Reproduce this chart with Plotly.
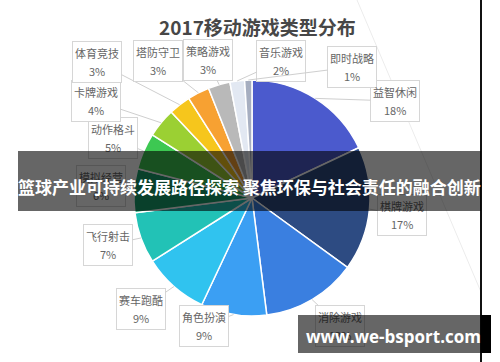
import math
import plotly.graph_objects as go

# ---------------- data ----------------
categories = ["益智休闲", "棋牌游戏", "消除游戏", "角色扮演", "赛车跑酷", "飞行射击", "模拟经营",
              "动作格斗", "卡牌游戏", "体育竞技", "塔防守卫", "策略游戏", "音乐游戏", "即时战略"]
shares = [18, 17, 13, 9, 9, 7, 6, 5, 4, 3, 3, 3, 2, 1]
title_text = "2017移动游戏类型分布"
banner_text = "篮球产业可持续发展路径探索 聚焦环保与社会责任的融合创新"
watermark_text = "www.we-bsport.com"

# ---------------- style / layout ----------------
W, H = 500, 362
colors = ["#4b5acd", "#2d4b82", "#3a7fe0", "#3b9ff3", "#30c3ef", "#22c2b6", "#18a06c",
          "#3dc852", "#9bd033", "#f6c61c", "#f7a132", "#b9b9b9", "#e2e8f2", "#a6aec0"]
# label box centres in pixels (x, y)
label_pos = [(395, 101), (402, 215), (340, 326), (204, 326), (141, 309), (108, 245), (101, 186),
             (113, 138), (96, 101), (97, 62), (158, 61), (208, 60), (281, 61), (352, 67)]
CX, CY, R = 252, 198, 118
FONT = "Noto Sans CJK SC"

fig = go.Figure()
fig.add_trace(go.Pie(
    labels=categories, values=shares, sort=False, direction="clockwise", rotation=0,
    marker=dict(colors=colors, line=dict(color="white", width=1.5)),
    textinfo="none", hoverinfo="skip", showlegend=False,
    domain=dict(x=[(CX - R) / W, (CX + R) / W], y=[(H - CY - R) / H, (H - CY + R) / H]),
))

def px(x):
    return x / W

def py(y):
    return 1 - y / H

C = dict(xref="paper", yref="paper", xanchor="center", yanchor="middle")

ann = []
ann.append(dict(x=px(257), y=py(26), text="<b>" + title_text + "</b>", showarrow=False,
                font=dict(family=FONT, size=19, color="#474747"), **C))

total = sum(shares)
cum = 0
tips = []
for v in shares:
    mid = (cum + v / 2) / total * 2 * math.pi
    tips.append((CX + R * math.sin(mid), CY - R * math.cos(mid)))
    cum += v

for (name, v, (bx, by), (tx, ty)) in zip(categories, shares, label_pos, tips):
    ann.append(dict(x=px(tx), y=py(ty), text=" ",
                    showarrow=True, ax=bx - tx, ay=by - ty, arrowhead=0, arrowwidth=1,
                    arrowcolor="#cfcfcf", standoff=0, startstandoff=0,
                    width=48, height=40, bordercolor="#d6d6d6", borderwidth=1,
                    borderpad=0, bgcolor="white", font=dict(size=1), **C))
for (name, v, (bx, by)) in zip(categories, shares, label_pos):
    ann.append(dict(x=px(bx), y=py(by - 9), text=name,
                    showarrow=False, font=dict(family=FONT, size=11, color="#666666"), **C))
    ann.append(dict(x=px(bx), y=py(by + 9), text=f"{v}%",
                    showarrow=False, font=dict(family=FONT, size=11, color="#666666"), **C))

# banner
ann.append(dict(x=px((18 + 481) / 2), y=py(181), text=" ",
                showarrow=False, width=463, height=60, bgcolor="rgba(0,0,0,0.6)",
                borderpad=0, borderwidth=0, font=dict(size=1), **C))
ann.append(dict(x=px(249.5), y=py(186),
                text="<b>" + banner_text + "</b>", showarrow=False,
                font=dict(family=FONT, size=17, color="white"), **C))
# watermark
ann.append(dict(x=px((298 + 481) / 2), y=py(334), text=" ",
                showarrow=False, width=183, height=38, bgcolor="rgba(0,0,0,0.6)",
                borderpad=0, borderwidth=0, font=dict(size=1), **C))
ann.append(dict(x=px(486), y=py(334), text=" ",
                showarrow=False, width=10, height=38, bgcolor="black",
                borderpad=0, borderwidth=0, font=dict(size=1), **C))
ann.append(dict(x=px(393), y=py(336),
                text="<b>" + watermark_text + "</b>", showarrow=False,
                font=dict(family="Open Sans", size=17, color="white"), **C))

shapes = [
    dict(type="line", xref="paper", yref="paper", x0=px(357), y0=py(0), x1=px(481), y1=py(292),
         line=dict(color="#ececec", width=1), layer="below"),
    dict(type="line", xref="paper", yref="paper", x0=px(481), y0=0, x1=px(481), y1=1,
         line=dict(color="#111111", width=2)),
]

fig.update_layout(
    width=W, height=H, margin=dict(l=0, r=0, t=0, b=0),
    paper_bgcolor="white", plot_bgcolor="white",
    annotations=ann, shapes=shapes,
)
fig.write_html("out.html", config={"displayModeBar": False},
               post_script="document.body.style.margin='0';document.body.style.overflow='hidden';")
